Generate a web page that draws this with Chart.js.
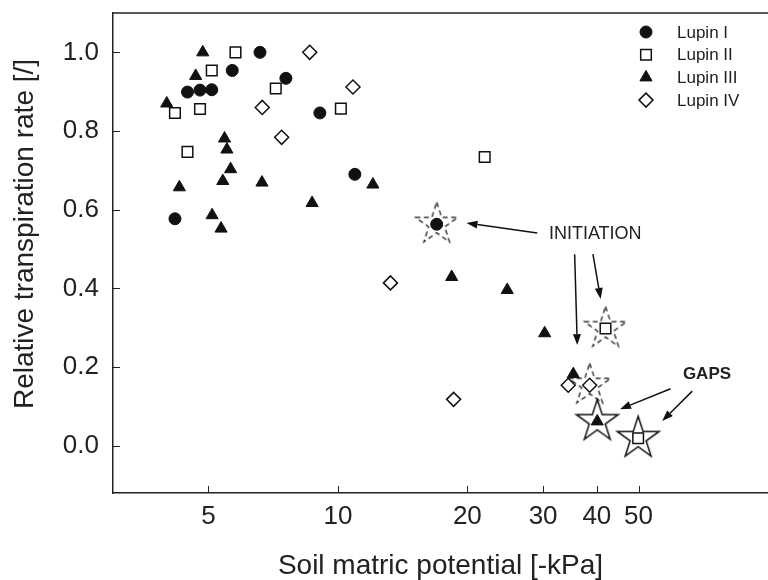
<!DOCTYPE html>
<html>
<head>
<meta charset="utf-8">
<script src="https://cdn.jsdelivr.net/npm/chart.js@4.4.1/dist/chart.umd.min.js"></script>
<style>
  html, body { margin: 0; padding: 0; background: #fff; }
</style>
</head>
<body>
<canvas id="lupinChart" width="768" height="580"></canvas>
<script>
// soil matric potential [-kPa] and relative transpiration rate, per plant
const lupin1X = [6.59, 5.68, 7.57, 4.47, 4.78, 5.09, 9.08, 10.95, 4.18, 16.97];
const lupin1Y = [1.0, 0.954, 0.934, 0.899, 0.904, 0.905, 0.846, 0.690, 0.577, 0.563];

const lupin2X = [5.78, 5.09, 7.17, 4.18, 4.78, 10.16, 4.47, 21.94, 41.9, 49.9];
const lupin2Y = [1.0, 0.954, 0.908, 0.846, 0.856, 0.857, 0.747, 0.734, 0.298, 0.019];

const lupin3X = [4.85, 4.67, 4.00, 5.45, 5.52, 5.63, 5.40, 4.28, 6.66, 12.06, 8.71, 5.10, 5.35, 18.39, 24.76, 30.25, 35.26, 40.09];
const lupin3Y = [1.0, 0.94, 0.870, 0.781, 0.753, 0.703, 0.673, 0.657, 0.669, 0.664, 0.617, 0.586, 0.552, 0.429, 0.396, 0.286, 0.182, 0.062];

const lupin4X = [8.60, 10.84, 6.67, 7.40, 13.25, 18.58, 34.32, 38.49];
const lupin4Y = [1.0, 0.912, 0.860, 0.784, 0.414, 0.118, 0.154, 0.154];

// marked points: start of decline (dashed stars) and gaps (solid stars)
const initiationX = [16.97, 41.9, 38.49];
const initiationY = [0.563, 0.298, 0.154];
const gapsX = [40.09, 49.9];
const gapsY = [0.062, 0.019];

const xTicks = [5, 10, 20, 30, 40, 50];
const yTicks = [0, 0.2, 0.4, 0.6, 0.8, 1.0];

const seriesNames = ['Lupin I', 'Lupin II', 'Lupin III', 'Lupin IV'];

const FONT = "'Liberation Sans', Arial, sans-serif";
const INK = '#111';

function toPoints(xs, ys) {
  return xs.map((x, i) => ({ x: x, y: ys[i] }));
}

// 5-pointed star drawn once on a small canvas, used as point style
function makeStar(dashed) {
  const c = document.createElement('canvas');
  c.width = 52; c.height = 52;
  const g = c.getContext('2d');
  const R = 22, r = R * 0.382;
  g.beginPath();
  for (let i = 0; i < 10; i++) {
    const rad = i % 2 ? r : R;
    const a = -Math.PI / 2 + i * Math.PI / 5;
    const px = 26 + rad * Math.cos(a), py = 26 + rad * Math.sin(a);
    if (i === 0) g.moveTo(px, py); else g.lineTo(px, py);
  }
  g.closePath();
  g.strokeStyle = INK;
  if (dashed) {
    g.lineWidth = 1.2;
    g.setLineDash([5, 3.5]);
  } else {
    g.lineWidth = 1.5;
  }
  g.stroke();
  return c;
}

const dashedStar = makeStar(true);
const solidStar = makeStar(false);

// annotation anchors in data units
const initiationLabel = { x: 30.95, y: 0.539 };
const initiationArrows = [
  [29.08, 0.541, 19.90, 0.566],
  [35.52, 0.487, 36.02, 0.256],
  [39.17, 0.487, 40.82, 0.373]
];
const gapsLabel = { x: 63.4, y: 0.182 };
const gapsArrows = [
  [59.37, 0.145, 45.28, 0.093],
  [66.67, 0.139, 56.76, 0.063]
];

function drawMarker(ctx, ds, x, y) {
  const r = ds.pointRadius;
  ctx.save();
  ctx.fillStyle = ds.backgroundColor;
  ctx.strokeStyle = ds.borderColor;
  ctx.lineWidth = ds.borderWidth;
  ctx.beginPath();
  if (ds.pointStyle === 'circle') {
    ctx.arc(x, y, r, 0, Math.PI * 2);
  } else if (ds.pointStyle === 'rect') {
    const s = r * Math.SQRT1_2;
    ctx.rect(x - s, y - s, 2 * s, 2 * s);
  } else if (ds.pointStyle === 'rectRot') {
    ctx.moveTo(x - r, y); ctx.lineTo(x, y - r); ctx.lineTo(x + r, y); ctx.lineTo(x, y + r);
    ctx.closePath();
  } else if (ds.pointStyle === 'triangle') {
    const w = r * Math.sin(Math.PI / 3);
    ctx.moveTo(x, y - r); ctx.lineTo(x + w, y + r / 2); ctx.lineTo(x - w, y + r / 2);
    ctx.closePath();
  }
  ctx.fill();
  ctx.stroke();
  ctx.restore();
}

function drawArrow(ctx, x1, y1, x2, y2) {
  const ang = Math.atan2(y2 - y1, x2 - x1);
  const head = 11, half = 4;
  const bx = x2 - head * Math.cos(ang), by = y2 - head * Math.sin(ang);
  ctx.beginPath();
  ctx.moveTo(x1, y1);
  ctx.lineTo(bx, by);
  ctx.stroke();
  ctx.beginPath();
  ctx.moveTo(x2, y2);
  ctx.lineTo(bx + half * Math.sin(ang), by - half * Math.cos(ang));
  ctx.lineTo(bx - half * Math.sin(ang), by + half * Math.cos(ang));
  ctx.closePath();
  ctx.fill();
}

const framePlugin = {
  id: 'frame',
  afterDraw(chart) {
    const ctx = chart.ctx;
    const area = chart.chartArea;
    const xs = chart.scales.x, ys = chart.scales.y;
    ctx.save();
    ctx.strokeStyle = '#222';
    ctx.fillStyle = INK;

    // top frame line
    ctx.lineWidth = 1.5;
    ctx.beginPath();
    ctx.moveTo(area.left, area.top);
    ctx.lineTo(area.right, area.top);
    ctx.stroke();

    // inward tick marks
    ctx.lineWidth = 1;
    ctx.beginPath();
    yTicks.forEach(v => {
      const py = Math.round(ys.getPixelForValue(v)) + 0.5;
      ctx.moveTo(area.left, py);
      ctx.lineTo(area.left + 7, py);
    });
    xTicks.forEach(v => {
      const px = Math.round(xs.getPixelForValue(v)) + 0.5;
      ctx.moveTo(px, area.bottom);
      ctx.lineTo(px, area.bottom - 7);
    });
    ctx.stroke();

    // legend
    ctx.font = '17px ' + FONT;
    ctx.textAlign = 'left';
    ctx.textBaseline = 'middle';
    seriesNames.forEach((name, i) => {
      const ds = chart.data.datasets[i];
      const ly = 32 + i * 22.7;
      drawMarker(ctx, ds, 646, ly);
      ctx.fillStyle = '#222';
      ctx.fillText(name, 677, ly + 1);
    });

    // annotations
    ctx.strokeStyle = INK;
    ctx.fillStyle = INK;
    ctx.lineWidth = 1.5;
    initiationArrows.concat(gapsArrows).forEach(a => {
      drawArrow(ctx, xs.getPixelForValue(a[0]), ys.getPixelForValue(a[1]),
                xs.getPixelForValue(a[2]), ys.getPixelForValue(a[3]));
    });
    ctx.fillStyle = '#222';
    ctx.textBaseline = 'middle';
    ctx.font = '18px ' + FONT;
    ctx.fillText('INITIATION', xs.getPixelForValue(initiationLabel.x), ys.getPixelForValue(initiationLabel.y));
    ctx.font = 'bold 17px ' + FONT;
    ctx.fillText('GAPS', xs.getPixelForValue(gapsLabel.x), ys.getPixelForValue(gapsLabel.y));

    // axis titles
    ctx.fillStyle = '#222';
    ctx.font = '28px ' + FONT;
    ctx.textAlign = 'center';
    ctx.textBaseline = 'alphabetic';
    ctx.fillText('Soil matric potential [-kPa]', (area.left + area.right) / 2, 574);
    ctx.translate(33, (area.top + area.bottom) / 2 - 19);
    ctx.rotate(-Math.PI / 2);
    ctx.fillText('Relative transpiration rate [/]', 0, 0);
    ctx.restore();
  }
};

const ctx = document.getElementById('lupinChart').getContext('2d');
const lupinChart = new Chart(ctx, {
  type: 'scatter',
  data: {
    datasets: [
      { label: 'Lupin I', data: toPoints(lupin1X, lupin1Y), pointStyle: 'circle', pointRadius: 6,
        backgroundColor: INK, borderColor: INK, borderWidth: 1 },
      { label: 'Lupin II', data: toPoints(lupin2X, lupin2Y), pointStyle: 'rect', pointRadius: 7.5,
        backgroundColor: '#fff', borderColor: INK, borderWidth: 1.5 },
      { label: 'Lupin III', data: toPoints(lupin3X, lupin3Y), pointStyle: 'triangle', pointRadius: 7,
        backgroundColor: INK, borderColor: INK, borderWidth: 1 },
      { label: 'Lupin IV', data: toPoints(lupin4X, lupin4Y), pointStyle: 'rectRot', pointRadius: 7,
        backgroundColor: '#fff', borderColor: INK, borderWidth: 1.5 },
      { label: 'initiation', data: toPoints(initiationX, initiationY), pointStyle: dashedStar, pointRadius: 22 },
      { label: 'gaps', data: toPoints(gapsX, gapsY), pointStyle: solidStar, pointRadius: 22 }
    ]
  },
  options: {
    responsive: false,
    animation: false,
    events: [],
    layout: { autoPadding: false, padding: { top: 13, right: 0, bottom: 0, left: 0 } },
    plugins: {
      legend: { display: false },
      tooltip: { enabled: false }
    },
    scales: {
      x: {
        type: 'logarithmic',
        min: 3,
        max: 100,
        afterBuildTicks: s => { s.ticks = xTicks.map(v => ({ value: v })); },
        afterFit: s => { s.height = 87; s.paddingLeft = 0; s.paddingRight = 0; },
        ticks: {
          autoSkip: false,
          maxRotation: 0,
          padding: 8,
          color: '#222',
          font: { family: FONT, size: 26 },
          callback: v => String(v)
        },
        grid: { display: false, drawTicks: false },
        border: { display: true, color: '#222', width: 1.5 }
      },
      y: {
        min: -0.12,
        max: 1.1,
        afterBuildTicks: s => { s.ticks = yTicks.map(v => ({ value: v })); },
        afterFit: s => { s.width = 113; s.paddingTop = 0; s.paddingBottom = 0; },
        ticks: {
          padding: 14,
          color: '#222',
          font: { family: FONT, size: 26 },
          callback: v => v.toFixed(1)
        },
        grid: { display: false, drawTicks: false },
        border: { display: true, color: '#222', width: 1.5 }
      }
    }
  },
  plugins: [framePlugin]
});
</script>
</body>
</html>
